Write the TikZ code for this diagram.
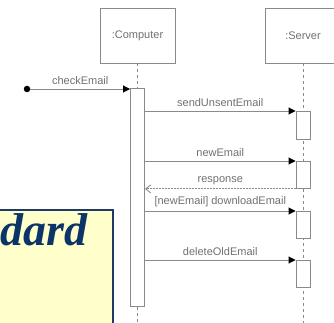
\documentclass[tikz,border=0pt]{standalone}
\usepackage{fontspec}
\setmainfont{Liberation Sans}
\newfontfamily\titlefont{Liberation Serif}
\usetikzlibrary{arrows.meta}
\definecolor{lgray}{HTML}{8A8A8A}
\definecolor{tgray}{HTML}{707070}
\definecolor{navy}{HTML}{1F3A6A}
\definecolor{titleblue}{HTML}{0B3469}
\definecolor{noteyellow}{HTML}{FFFFCC}
\begin{document}
\begin{tikzpicture}[x=1pt,y=-1pt,
  obj/.style={draw=lgray, line width=0.9pt, minimum width=75pt, minimum height=55pt, inner sep=0pt, font=\fontsize{11}{13}\selectfont, text=tgray},
  act/.style={draw=lgray, fill=white, line width=0.9pt, inner sep=0pt, minimum width=14pt},
  life/.style={draw=lgray, dash pattern=on 3pt off 3pt, line width=0.9pt},
  msg/.style={draw=lgray, line width=0.9pt, -{Triangle[length=7pt,width=7pt,black]}},
  ret/.style={draw=lgray, dash pattern=on 1.5pt off 1.5pt, line width=0.9pt, -{Straight Barb[length=5pt,width=8pt,lgray]}},
  lbl/.style={font=\fontsize{11}{13}\selectfont, text=tgray, inner sep=0pt},
  notebox/.style={draw=navy, fill=noteyellow, line width=1.3pt},
  titletext/.style={font=\titlefont\bfseries\itshape\fontsize{46}{50}\selectfont, text=titleblue, inner sep=0pt}
]
\useasboundingbox (0,0) rectangle (334,323);

% objects
\node[obj] (comp) at (137.5,35.5) {:Computer};
\node[obj] (serv) at (303,35.5) {:Server};

\coordinate (cend) at (137.5,330);
\coordinate (send) at (303,330);

% lifelines
\draw[life] (serv.south) -- (send);

% computer activation
\node[act, anchor=north, minimum height=218pt] (ca) at (137.5,88) {};
\draw[life] (comp.south) -- (ca.north);
\draw[life] (ca.south) -- (cend);

% server activations
\node[act, anchor=north, minimum height=28pt] (s1) at (303,111) {};
\node[act, anchor=north, minimum height=27pt] (s2) at (303,161) {};
\node[act, anchor=north, minimum height=27pt] (s3) at (303,211) {};
\node[act, anchor=north, minimum height=27pt] (s4) at (303,260) {};

% found message
\node[circle, fill=black, inner sep=0pt, minimum size=6.5pt] (start) at (27,89) {};
\draw[msg] (start) -- (start -| ca.west) node[midway, above=4pt, lbl] {checkEmail};

% messages
\draw[msg] (s1.north west -| ca.east) -- (s1.north west) node[midway, above=4pt, lbl] {sendUnsentEmail};
\draw[msg] (s2.north west -| ca.east) -- (s2.north west) node[midway, above=4pt, lbl] {newEmail};
\draw[ret] (s2.south west) -- (s2.south west -| ca.east) node[midway, above=4pt, lbl] {response};
\draw[msg] (s3.north west -| ca.east) -- (s3.north west) node[midway, above=4pt, lbl] {[newEmail] downloadEmail};
\draw[msg] (s4.north west -| ca.east) -- (s4.north west) node[midway, above=4pt, lbl] {deleteOldEmail};

% note box
\draw[notebox] (-2,210) rectangle (113,330);
\node[titletext, anchor=base east] (title) at (88,245) {dard};
\end{tikzpicture}
\end{document}
